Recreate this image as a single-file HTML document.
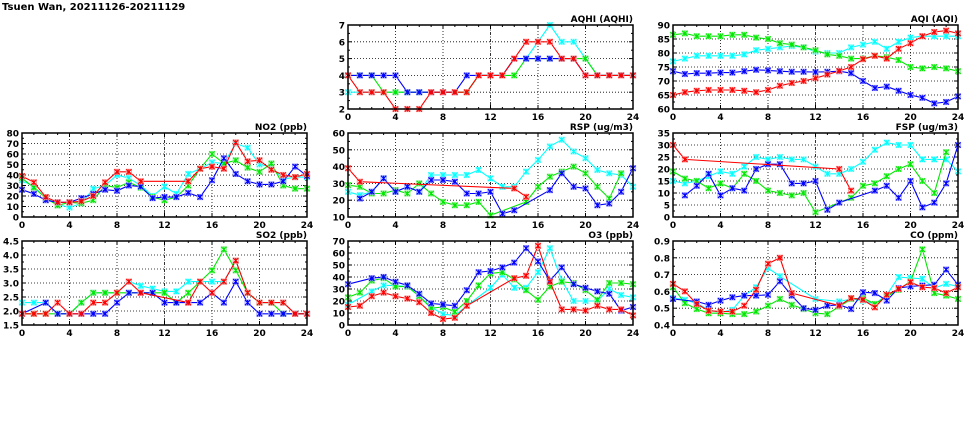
<!DOCTYPE html>
<html><head><meta charset="utf-8"><style>
html,body{margin:0;padding:0;background:#fff;}
svg{display:block;}
text{font-family:"DejaVu Sans","Liberation Sans",sans-serif;font-weight:bold;font-size:9px;fill:#000;}
</style></head><body>
<svg id="s" width="975" height="447" xmlns="http://www.w3.org/2000/svg">
<text x="2" y="10" style="font-size:10px">Tsuen Wan, 20211126-20211129</text>
</svg>
<script>
var N=null;
var panels=[
{x:348,y:25,t:"AQHI (AQHI)",mn:2,mx:7,st:1,dec:0,d:{
c:[3,3,3,3,3,3,3,3,3,3,3,4,4,4,5,5,6,7,6,6,5,4,4,4,4],
g:[4,4,4,3,3,3,3,3,3,3,3,4,4,4,4,5,5,5,5,5,5,4,4,4,4],
b:[4,4,4,4,4,3,3,3,3,3,4,4,4,4,5,5,5,5,5,5,4,4,4,4,4],
r:[4,3,3,3,2,2,2,3,3,3,3,4,4,4,5,6,6,6,5,5,4,4,4,4,4]}},
{x:673,y:25,t:"AQI (AQI)",mn:60,mx:90,st:5,dec:0,d:{
c:[77,78,79,79,79,79,79.5,81,81.5,82,82.5,82,80.5,80,80,82,83,84,81.5,84,85.5,86,86,86,86],
g:[86.5,87,86,86,86,86.5,86.5,85.5,85,83.5,83,82,81,79.5,79,78,78,79,78.5,77.5,75,74.5,75,74.5,73.5],
b:[73.5,72.5,72.8,72.8,73,73,73.5,74,73.8,73.5,73.3,73.3,73.2,73.3,73.5,72.8,70,67.5,68,66.5,65,64,62,62.5,64.5],
r:[65,66,66.5,66.8,66.8,66.8,66.5,66,66.8,68.3,69.3,70,71,72.3,73.6,75,77.8,79,78,81.5,83.5,86,87.5,88,87]}},
{x:22,y:133,t:"NO2 (ppb)",mn:0,mx:80,st:10,dec:0,d:{
c:[35,29,18,12,9,13,27,30,40,37,30,20,29,22,41,46,52,51,70,66,50,48,36,38,38],
g:[37,28,18,11,14,13,16,30,28,33,28,19,16,19,30,46,60,51,54,47,43,51,30,27,27],
b:[26,22,16,14,14,18,22,26,25,30,29,18,19,19,23,19,35,56,41,34,31,31,34,48,39],
r:[39,33,19,14,14,15,20,33,43,43,34,N,N,N,34,46,48,46,71,53,54,45,40,38,41]}},
{x:348,y:133,t:"RSP (ug/m3)",mn:10,mx:60,st:10,dec:0,d:{
c:[25,23,25,33,25,28,25,35,35,35,35,38,33,28,28,37,44,52,56,49,45,38,36,35,28],
g:[29,28,24,24,26,24,30,24,19,17,17,19,11,N,N,19,28,34,37,40,36,28,21,36,N],
b:[N,21,25,33,25,28,25,32,32,31,24,24,25,12,14,N,N,26,36,28,27,17,18,25,39],
r:[39,31,N,N,N,N,N,N,N,N,N,N,N,N,27,22,N,N,N,N,N,N,N,N,N]}},
{x:673,y:133,t:"FSP (ug/m3)",mn:0,mx:35,st:5,dec:0,d:{
c:[15,14,15,17,19,18,21,25,24,25,24,24,21,18,18,20,23,28,31,30,30,24,24,24,19],
g:[19,16,15,12,14,12,18,15,11,10,9,10,2,N,N,8,13,14,17,20,22,15,10,27,N],
b:[N,9,13,18,9,12,11,20,22,22,14,14,15,3,6,N,N,11,13,8,15,4,6,14,30],
r:[30,24,N,N,N,N,N,N,N,N,N,N,N,N,20,11,N,N,N,N,N,N,N,N,N]}},
{x:22,y:241,t:"SO2 (ppb)",mn:1.5,mx:4.5,st:0.5,dec:1,d:{
c:[2.3,2.3,2.3,1.9,1.9,2.3,2.65,2.65,2.65,3.05,2.9,2.8,2.7,2.7,3.05,3.05,3.05,3.05,3.8,2.65,2.3,2.3,2.3,1.9,1.9],
g:[1.9,1.9,1.9,1.9,1.9,2.3,2.65,2.65,2.65,2.65,2.65,2.65,2.65,2.3,2.65,3.05,3.45,4.2,3.45,2.65,2.3,2.3,1.9,1.9,1.9],
b:[1.9,N,2.3,1.9,1.9,1.9,1.9,1.9,2.3,2.65,2.65,2.65,2.3,2.3,2.3,2.3,2.65,2.3,3.05,2.3,1.9,1.9,1.9,1.9,1.9],
r:[1.9,1.9,1.9,2.3,1.9,1.9,2.3,2.3,2.65,3.05,2.65,N,N,N,2.3,3.05,2.65,3.05,3.8,2.65,2.3,2.3,2.3,1.9,1.9]}},
{x:348,y:241,t:"O3 (ppb)",mn:0,mx:70,st:10,dec:0,d:{
c:[17,N,28,33,33,32,24,15,9,8,16,N,31,42,31,31,44,64,37,20,20,20,30,25,23],
g:[23,27,37,39,32,32,24,14,15,11,20,33,43,44,38,29,21,32,36,35,29,21,35,35,34],
b:[34,N,39,40,36,33,26,18,17,16,29,44,45,48,52,64,53,37,48,34,31,28,26,12,15],
r:[15,16,24,27,24,22,19,10,5,6,16,N,N,N,39,41,66,36,13,13,12,16,13,13,8]}},
{x:673,y:241,t:"CO (ppm)",mn:0.4,mx:0.9,st:0.1,dec:1,d:{
c:[0.56,0.55,0.53,0.49,0.475,0.49,0.575,0.625,0.74,0.69,N,N,0.555,N,0.54,0.555,0.545,0.525,0.58,0.685,0.68,0.675,0.62,0.645,0.63],
g:[0.625,0.53,0.495,0.47,0.47,0.465,0.465,0.48,0.515,0.555,0.52,0.495,0.47,0.465,0.51,0.555,0.56,0.525,0.57,0.61,0.66,0.85,0.59,0.575,0.555],
b:[0.555,N,0.54,0.52,0.545,0.565,0.575,0.575,0.58,0.66,0.575,0.50,0.49,0.515,0.52,0.495,0.595,0.59,0.545,0.62,0.63,0.635,0.64,0.73,0.64],
r:[0.645,0.60,0.525,0.485,0.48,0.48,0.515,0.61,0.765,0.80,0.59,N,N,N,0.515,0.56,0.55,0.505,0.58,0.615,0.655,0.625,0.62,0.59,0.625]}}
];
var W=285,H=84,o="";
var col={c:"#00ffff",g:"#00e800",b:"#0000ff",r:"#ff0000"};
var lt={c:"#a0ffff",g:"#a0f0a0",b:"#a0a0ff",r:"#ffa0a0"};
panels.forEach(function(p){
 var X=function(i){return p.x+i*W/24;}, Y=function(v){return p.y+H-(v-p.mn)/(p.mx-p.mn)*H;};
 var n=Math.round((p.mx-p.mn)/p.st);
 for(var k=0;k<=n;k++){var v=p.mn+k*p.st,yy=Y(v);
  if(k>0&&k<n)o+='<line x1="'+p.x+'" x2="'+(p.x+W)+'" y1="'+yy+'" y2="'+yy+'" stroke="#000" stroke-width="0.8" stroke-dasharray="1,2"/>';
  o+='<line x1="'+p.x+'" x2="'+(p.x+4)+'" y1="'+yy+'" y2="'+yy+'" stroke="#000"/><line x1="'+(p.x+W-4)+'" x2="'+(p.x+W)+'" y1="'+yy+'" y2="'+yy+'" stroke="#000"/>';
  o+='<text x="'+(p.x-3)+'" y="'+(yy+3.5)+'" text-anchor="end">'+v.toFixed(p.dec)+'</text>';
  if(k<n){var ym=Y(v+p.st/2);o+='<line x1="'+p.x+'" x2="'+(p.x+2)+'" y1="'+ym+'" y2="'+ym+'" stroke="#000"/><line x1="'+(p.x+W-2)+'" x2="'+(p.x+W)+'" y1="'+ym+'" y2="'+ym+'" stroke="#000"/>';}
 }
 for(var i=0;i<=24;i++){var xx=X(i);
  if(i%4==0){
   if(i>0&&i<24)o+='<line x1="'+xx+'" x2="'+xx+'" y1="'+p.y+'" y2="'+(p.y+H)+'" stroke="#000" stroke-width="0.8" stroke-dasharray="'+(i==12?"3,1.5,1,1.5":"1,2")+'"/>';
   o+='<line x1="'+xx+'" x2="'+xx+'" y1="'+(p.y+H-4)+'" y2="'+(p.y+H)+'" stroke="#000"/><line x1="'+xx+'" x2="'+xx+'" y1="'+p.y+'" y2="'+(p.y+4)+'" stroke="#000"/>';
   o+='<text x="'+xx+'" y="'+(p.y+H+11)+'" text-anchor="middle">'+i+'</text>';
  } else {
   o+='<line x1="'+xx+'" x2="'+xx+'" y1="'+(p.y+H-2)+'" y2="'+(p.y+H)+'" stroke="#000"/><line x1="'+xx+'" x2="'+xx+'" y1="'+p.y+'" y2="'+(p.y+2)+'" stroke="#000"/>';
  }
 }
 ["c","g","b","r"].forEach(function(s){
  var pts=[];p.d[s].forEach(function(v,i){if(v!==null)pts.push([X(i),Y(v)]);});
  o+='<polyline fill="none" stroke="'+col[s]+'" stroke-width="1.1" points="'+pts.map(function(q){return q[0].toFixed(1)+","+q[1].toFixed(1);}).join(" ")+'"/>';
  pts.forEach(function(q){var a=q[0],b=q[1],m=2.6;
   o+='<rect x="'+(a-m)+'" y="'+(b-m)+'" width="'+(2*m)+'" height="'+(2*m)+'" fill="none" stroke="'+lt[s]+'" stroke-width="1"/>';
   o+='<path d="M'+(a-m)+' '+(b-m)+'L'+(a+m)+' '+(b+m)+'M'+(a-m)+' '+(b+m)+'L'+(a+m)+' '+(b-m)+'M'+a+' '+(b-m)+'V'+(b+m)+'" stroke="'+col[s]+'" stroke-width="1.1"/>';
  });
 });
 o+='<rect x="'+p.x+'" y="'+p.y+'" width="'+W+'" height="'+H+'" fill="none" stroke="#000" stroke-width="1.5"/>';
 o+='<text x="'+(p.x+W)+'" y="'+(p.y-3)+'" text-anchor="end">'+p.t+'</text>';
});
document.getElementById("s").insertAdjacentHTML("beforeend",o);
</script>
</body></html>
